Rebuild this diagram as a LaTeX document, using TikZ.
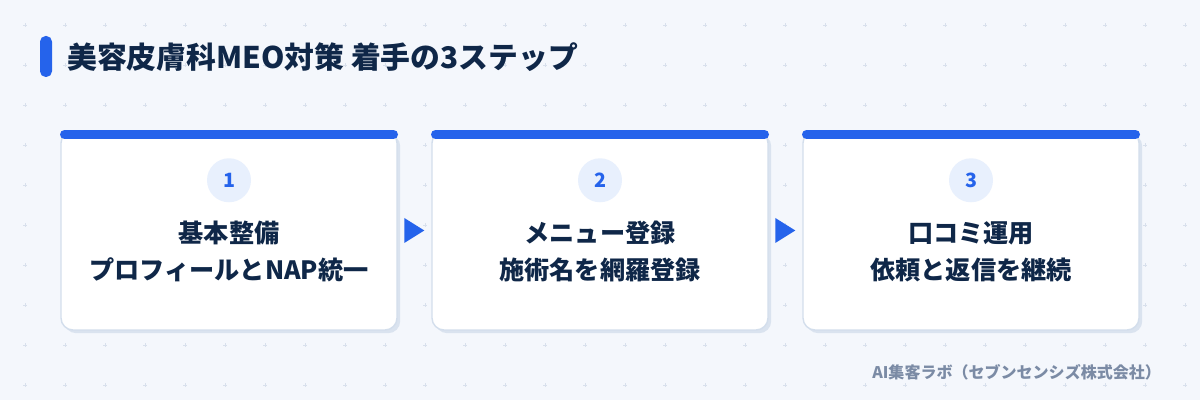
\documentclass[tikz,border=0pt]{standalone}
\usepackage{fontspec}
\setmainfont{Noto Sans CJK JP}
\usetikzlibrary{positioning,shapes,shadows}
\definecolor{bgc}{HTML}{F4F7FC}
\definecolor{gridc}{HTML}{D8E0EC}
\definecolor{accent}{HTML}{2563EB}
\definecolor{navy}{HTML}{0F2748}
\definecolor{cardline}{HTML}{D3DEEC}
\definecolor{shadowc}{HTML}{DAE3EF}
\definecolor{numbg}{HTML}{E8F0FD}
\definecolor{footc}{HTML}{7B8BA5}
\tikzstyle{card} = [rectangle, rounded corners=0.3cm, minimum width=8.4cm, minimum height=4.975cm, outer sep=0pt, draw=cardline, line width=1pt, fill=white, drop shadow={shadow xshift=0.08cm, shadow yshift=-0.08cm, fill=shadowc, opacity=1}]
\tikzstyle{numcirc} = [circle, fill=numbg, minimum size=1.1cm, inner sep=0pt, text=accent, font=\bfseries\fontsize{14}{16}\selectfont]
\tikzstyle{steptext} = [align=center, text=navy, font=\bfseries\fontsize{17.9}{26.2}\selectfont]
\tikzstyle{topbar} = [line width=0.225cm, draw=accent, line cap=round]
\tikzstyle{pointer} = [isosceles triangle, isosceles triangle stretches, fill=accent, minimum width=0.625cm, minimum height=0.5cm, inner sep=0pt]

\begin{document}
\begin{tikzpicture}[node distance=0.875cm]
	\fill[bgc] (0,0) rectangle (30,10);
	\useasboundingbox (0,0) rectangle (30,10);
	% faint grid marks
	\foreach \i in {0,...,29}
		\foreach \j in {0,...,9}
			\draw[gridc, line width=0.5pt] (0.625+\i,9.375-\j) ++(-0.05,0) -- ++(0.1,0) ++(-0.05,-0.05) -- ++(0,0.1);

	% title
	\fill[accent, rounded corners=0.14cm] (1.0,8.075) rectangle (1.3,9.1);
	\node (title) [anchor=west, inner sep=0pt, text=navy, font=\bfseries\fontsize{21.2}{24}\selectfont] at (1.675,8.575) {美容皮膚科MEO対策 着手の3ステップ};

	% cards
	\node (card1) [card] at (5.725,4.2375) {};
	\node (card2) [card,right=of card1] {};
	\node (card3) [card,right=of card2] {};
	\foreach \c in {card1,card2,card3}
		\draw [topbar] ([xshift=0.0875cm,yshift=-0.0875cm]\c.north west) -- ([xshift=-0.0875cm,yshift=-0.0875cm]\c.north east);

	\node (num1) [numcirc,below=0.675cm of card1.north] {1};
	\node (num2) [numcirc,below=0.675cm of card2.north] {2};
	\node (num3) [numcirc,below=0.675cm of card3.north] {3};

	\node (txt1) [steptext] at ([yshift=-0.525cm]card1.center) {基本整備\\プロフィールとNAP統一};
	\node (txt2) [steptext] at ([yshift=-0.525cm]card2.center) {メニュー登録\\施術名を網羅登録};
	\node (txt3) [steptext] at ([yshift=-0.525cm]card3.center) {口コミ運用\\依頼と返信を継続};

	\node (arr1) [pointer,right=0.175cm of card1] {};
	\node (arr2) [pointer,right=0.175cm of card2] {};

	\node (credit) [anchor=west, inner sep=0pt, text=footc, font=\bfseries\fontsize{11.4}{13}\selectfont] at (21.8,0.7) {AI集客ラボ（セブンセンシズ株式会社）};
\end{tikzpicture}
\end{document}
